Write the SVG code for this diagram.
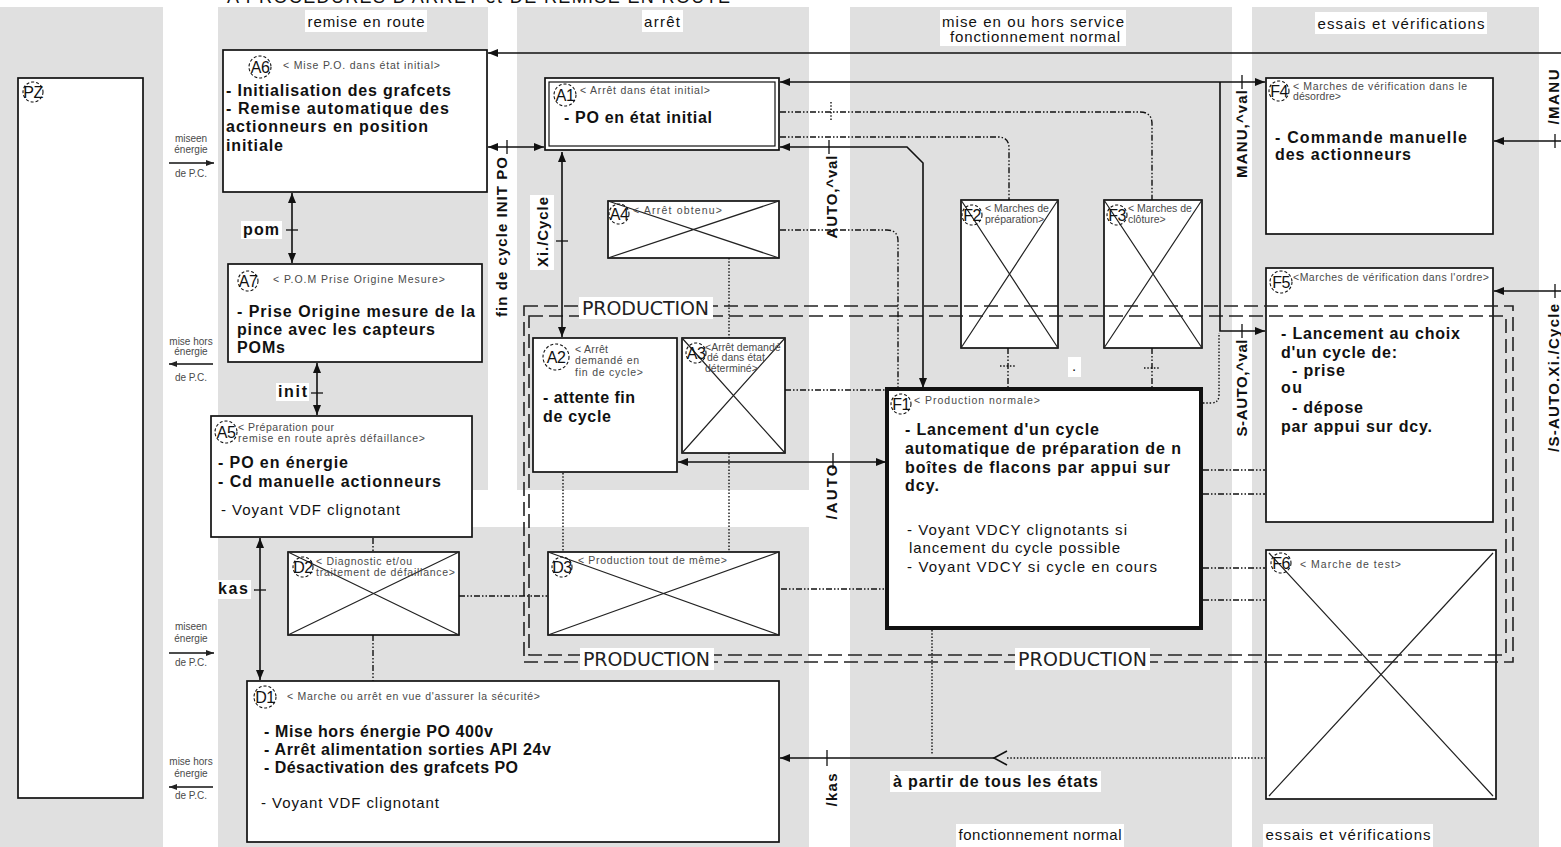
<svg xmlns="http://www.w3.org/2000/svg" width="1561" height="847" viewBox="0 0 1561 847">
<defs>
<style>
.col{fill:#e0e0e0}
.wb{fill:#fff}
.box{fill:#fff;stroke:#111;stroke-width:1.7}
.xx{stroke:#222;stroke-width:1.2;fill:none}
.ln{stroke:#111;stroke-width:1.6;fill:none}
.tk{stroke:#111;stroke-width:1.3}
.dd{stroke:#111;stroke-width:1.4;stroke-dasharray:6 2 1.5 2 1.5 2;fill:none}
.dt{stroke:#111;stroke-width:1.4;stroke-dasharray:1.5 1.8;fill:none}
.pd{stroke:#222;stroke-width:1.6;stroke-dasharray:14 6;fill:none}
.cir{fill:none;stroke:#111;stroke-width:1.1;stroke-dasharray:3 2}
text{font-family:"Liberation Sans",Arial,sans-serif}
.cl{font-size:16px;fill:#111;text-anchor:middle;dominant-baseline:central;letter-spacing:-0.5px}
.tt{font-size:10.5px;fill:#4a4a4a}
.b{font-size:16px;font-weight:bold;fill:#111}
.r{font-size:15px;fill:#111}
.hd{font-size:15px;fill:#111;text-anchor:middle}
.sm{font-size:10px;fill:#4a4a4a;text-anchor:middle}
.pr{font-family:"DejaVu Sans",sans-serif;font-size:19px;fill:#222}
.v{font-size:15px;font-weight:bold;fill:#111;text-anchor:middle;dominant-baseline:central}
</style>
<marker id="ah" viewBox="0 0 10 8" refX="10" refY="4" markerWidth="10" markerHeight="8" markerUnits="userSpaceOnUse" orient="auto-start-reverse"><path d="M0,0 L10,4 L0,8 z" fill="#111"/></marker>
<marker id="sa" viewBox="0 0 8 6" refX="8" refY="3" markerWidth="8" markerHeight="6" markerUnits="userSpaceOnUse" orient="auto"><path d="M0,0 L8,3 L0,6 z" fill="#222"/></marker>
<clipPath id="cA3"><rect x="682" y="338" width="103" height="115"/></clipPath>
<clipPath id="cF2"><rect x="961" y="200" width="97" height="148"/></clipPath>
<clipPath id="cF3"><rect x="1104" y="200" width="98" height="148"/></clipPath>
</defs>
<rect width="1561" height="847" fill="#fff"/>
<g id="zones">
<rect class="col" x="0" y="7" width="163" height="840"/>
<rect class="col" x="218" y="7" width="270" height="483"/>
<rect class="col" x="517" y="7" width="292" height="483"/>
<rect class="col" x="218" y="527" width="591" height="320"/>
<rect class="col" x="850" y="7" width="382" height="840"/>
<rect class="col" x="1252" y="7" width="287" height="840"/>
</g>
<g id="headers">
<text x="227" y="3" font-size="18" fill="#111" textLength="503">A  PROCEDURES D'ARRET et DE REMISE EN ROUTE</text>
<rect class="wb" x="305" y="10" width="122" height="22"/>
<text class="hd" x="366" y="27" textLength="117">remise en route</text>
<rect class="wb" x="642" y="10" width="41" height="22"/>
<text class="hd" x="662" y="27" textLength="36">arrêt</text>
<rect class="wb" x="940" y="10" width="186" height="36"/>
<text class="hd" x="1033" y="27" textLength="182">mise en ou hors service</text>
<text class="hd" x="1035" y="42" textLength="170">fonctionnement normal</text>
<rect class="wb" x="1315" y="12" width="172" height="22"/>
<text class="hd" x="1401" y="29" textLength="167">essais et vérifications</text>
<rect class="wb" x="956" y="824" width="168" height="23"/>
<text class="hd" x="1040" y="840" textLength="163">fonctionnement normal</text>
<rect class="wb" x="1263" y="824" width="170" height="23"/>
<text class="hd" x="1348" y="840" textLength="165">essais et vérifications</text>
</g>
<g id="pc-labels">
<text class="sm" x="191" y="142">miseen</text>
<text class="sm" x="191" y="153">énergie</text>
<line class="tk" x1="169" y1="163" x2="214" y2="163" marker-end="url(#sa)"/>
<text class="sm" x="191" y="177">de P.C.</text>
<text class="sm" x="191" y="345">mise hors</text>
<text class="sm" x="191" y="355">énergie</text>
<line class="tk" x1="213" y1="364" x2="169" y2="364" marker-end="url(#sa)"/>
<text class="sm" x="191" y="381">de P.C.</text>
<text class="sm" x="191" y="630">miseen</text>
<text class="sm" x="191" y="642">énergie</text>
<line class="tk" x1="169" y1="653" x2="214" y2="653" marker-end="url(#sa)"/>
<text class="sm" x="191" y="666">de P.C.</text>
<text class="sm" x="191" y="765">mise hors</text>
<text class="sm" x="191" y="777">énergie</text>
<line class="tk" x1="213" y1="787" x2="169" y2="787" marker-end="url(#sa)"/>
<text class="sm" x="191" y="799">de P.C.</text>
</g>
<g id="PZ">
<rect class="box" x="18" y="78" width="125" height="720"/>
<circle class="cir" cx="33" cy="92" r="10"/><text class="cl" x="33" y="92">PZ</text>
</g>
<g id="A6">
<rect class="box" x="223" y="50" width="264" height="142"/>
<circle class="cir" cx="260" cy="67" r="11"/><text class="cl" x="260" y="67">A6</text>
<text class="tt" x="283" y="69" textLength="157">&lt; Mise P.O. dans état initial&gt;</text>
<text class="b" x="226" y="96" textLength="225">- Initialisation des grafcets</text>
<text class="b" x="226" y="114" textLength="223">- Remise automatique des</text>
<text class="b" x="226" y="132" textLength="202">actionneurs en position</text>
<text class="b" x="226" y="151" textLength="57">initiale</text>
</g>
<g id="A7">
<rect class="box" x="228" y="264" width="254" height="98"/>
<circle class="cir" cx="248" cy="281" r="10"/><text class="cl" x="248" y="281">A7</text>
<text class="tt" x="273" y="283" textLength="172">&lt; P.O.M Prise Origine Mesure&gt;</text>
<text class="b" x="237" y="317" textLength="238">- Prise Origine mesure de la</text>
<text class="b" x="237" y="335" textLength="198">pince avec les capteurs</text>
<text class="b" x="237" y="353" textLength="48">POMs</text>
</g>
<g id="A5">
<rect class="box" x="211" y="416" width="261" height="121"/>
<circle class="cir" cx="226" cy="432" r="11"/><text class="cl" x="226" y="432">A5</text>
<text class="tt" x="238" y="431" textLength="96">&lt; Préparation pour</text>
<text class="tt" x="238" y="442" textLength="187">remise en route après défaillance&gt;</text>
<text class="b" x="218" y="468" textLength="130">- PO en énergie</text>
<text class="b" x="218" y="487" textLength="223">- Cd manuelle actionneurs</text>
<text class="r" x="221" y="515" textLength="179">- Voyant VDF clignotant</text>
</g>
<g id="A1">
<rect class="box" x="545" y="78" width="234" height="72"/>
<rect fill="none" stroke="#111" stroke-width="1.2" x="549" y="82" width="226" height="64"/>
<circle class="cir" cx="565" cy="95" r="11"/><text class="cl" x="565" y="95">A1</text>
<text class="tt" x="580" y="94" textLength="130">&lt; Arrêt dans état initial&gt;</text>
<text class="b" x="564" y="123" textLength="148">- PO en état initial</text>
</g>
<g id="A4">
<rect class="box" x="608" y="201" width="171" height="57"/>
<path class="xx" d="M608,201 L779,258 M779,201 L608,258"/>
<circle class="cir" cx="619" cy="214" r="10"/><text class="cl" x="619" y="214">A4</text>
<text class="tt" x="633" y="214" textLength="89">&lt; Arrêt obtenu&gt;</text>
</g>
<g id="A2">
<rect class="box" x="533" y="338" width="144" height="134"/>
<circle class="cir" cx="556" cy="357" r="13"/><text class="cl" x="556" y="357" font-size="18">A2</text>
<text class="tt" x="575" y="353" textLength="33">&lt; Arrêt</text>
<text class="tt" x="575" y="364" textLength="64">demandé en</text>
<text class="tt" x="575" y="376" textLength="68">fin de cycle&gt;</text>
<text class="b" x="543" y="403" textLength="92">- attente fin</text>
<text class="b" x="543" y="422" textLength="68">de cycle</text>
</g>
<g id="A3">
<rect class="box" x="682" y="338" width="103" height="115"/>
<path class="xx" d="M682,338 L785,453 M785,338 L682,453"/>
<circle class="cir" cx="696" cy="353" r="10"/><text class="cl" x="696" y="353">A3</text>
<g clip-path="url(#cA3)">
<text class="tt" x="705" y="351">&lt;Arrêt demandé</text>
<text class="tt" x="707" y="361">dé dans état</text>
<text class="tt" x="705" y="372">déterminé&gt;</text>
</g>
</g>
<g id="F2">
<rect class="box" x="961" y="200" width="97" height="148"/>
<path class="xx" d="M961,200 L1058,348 M1058,200 L961,348"/>
<circle class="cir" cx="972" cy="215" r="10"/><text class="cl" x="972" y="215">F2</text>
<g clip-path="url(#cF2)">
<text class="tt" x="985" y="212">&lt; Marches de</text>
<text class="tt" x="985" y="223">préparation&gt;</text>
</g>
</g>
<g id="F3">
<rect class="box" x="1104" y="200" width="98" height="148"/>
<path class="xx" d="M1104,200 L1202,348 M1202,200 L1104,348"/>
<circle class="cir" cx="1117" cy="215" r="10"/><text class="cl" x="1117" y="215">F3</text>
<g clip-path="url(#cF3)">
<text class="tt" x="1128" y="212">&lt; Marches de</text>
<text class="tt" x="1128" y="223">clôture&gt;</text>
</g>
</g>
<g id="F1">
<rect fill="#fff" stroke="#111" stroke-width="4" x="887" y="389" width="314" height="239"/>
<circle class="cir" cx="901" cy="404" r="10"/><text class="cl" x="901" y="404">F1</text>
<text class="tt" x="914" y="404" textLength="126">&lt; Production normale&gt;</text>
<text class="b" x="905" y="435" textLength="194">- Lancement d'un cycle</text>
<text class="b" x="905" y="454" textLength="276">automatique de préparation de n</text>
<text class="b" x="905" y="473" textLength="265">boîtes de flacons par appui sur</text>
<text class="b" x="905" y="491" textLength="34">dcy.</text>
<text class="r" x="907" y="535" textLength="220">- Voyant VDCY clignotants si</text>
<text class="r" x="909" y="553" textLength="211">lancement du cycle possible</text>
<text class="r" x="907" y="572" textLength="250">- Voyant VDCY si cycle en cours</text>
</g>
<g id="F4">
<rect class="box" x="1266" y="78" width="227" height="156"/>
<circle class="cir" cx="1279" cy="91" r="10"/><text class="cl" x="1279" y="91">F4</text>
<text class="tt" x="1293" y="90" textLength="174">&lt; Marches de vérification dans le</text>
<text class="tt" x="1293" y="100" textLength="48">désordre&gt;</text>
<text class="b" x="1275" y="143" textLength="192">- Commande manuelle</text>
<text class="b" x="1275" y="160" textLength="136">des actionneurs</text>
</g>
<g id="F5">
<rect class="box" x="1266" y="268" width="227" height="254"/>
<circle class="cir" cx="1281" cy="282" r="11"/><text class="cl" x="1281" y="282">F5</text>
<text class="tt" x="1293" y="281" textLength="196">&lt;Marches de vérification dans l'ordre&gt;</text>
<text class="b" x="1281" y="339" textLength="179">- Lancement au choix</text>
<text class="b" x="1281" y="358" textLength="116">d'un cycle de:</text>
<text class="b" x="1292" y="376" textLength="53">- prise</text>
<text class="b" x="1281" y="393" textLength="21">ou</text>
<text class="b" x="1292" y="413" textLength="71">- dépose</text>
<text class="b" x="1281" y="432" textLength="151">par appui sur dcy.</text>
</g>
<g id="F6">
<rect class="box" x="1266" y="550" width="230" height="249"/>
<path class="xx" d="M1269,553 L1493,796 M1493,553 L1269,796"/>
<circle class="cir" cx="1281" cy="563" r="10"/><text class="cl" x="1281" y="563">F6</text>
<text class="tt" x="1300" y="568" textLength="101">&lt; Marche de test&gt;</text>
</g>
<g id="D2">
<rect class="box" x="288" y="552" width="171" height="83"/>
<path class="xx" d="M288,552 L459,635 M459,552 L288,635"/>
<circle class="cir" cx="303" cy="567" r="10"/><text class="cl" x="303" y="567">D2</text>
<text class="tt" x="316" y="565" textLength="96">&lt; Diagnostic et/ou</text>
<text class="tt" x="316" y="576" textLength="139">traitement de défaillance&gt;</text>
</g>
<g id="D3">
<rect class="box" x="548" y="552" width="231" height="83"/>
<path class="xx" d="M548,552 L779,635 M779,552 L548,635"/>
<circle class="cir" cx="562" cy="567" r="10"/><text class="cl" x="562" y="567">D3</text>
<text class="tt" x="578" y="564" textLength="149">&lt; Production tout de même&gt;</text>
</g>
<g id="D1">
<rect class="box" x="247" y="681" width="532" height="161"/>
<circle class="cir" cx="265" cy="697" r="11"/><text class="cl" x="265" y="697">D1</text>
<text class="tt" x="287" y="700" textLength="253">&lt; Marche ou arrêt en vue d'assurer la sécurité&gt;</text>
<text class="b" x="264" y="737" textLength="229">- Mise hors énergie PO 400v</text>
<text class="b" x="264" y="755" textLength="287">- Arrêt alimentation sorties API  24v</text>
<text class="b" x="264" y="773" textLength="254">- Désactivation des grafcets PO</text>
<text class="r" x="261" y="808" textLength="178">- Voyant VDF clignotant</text>
</g>
<g id="production">
<path class="pd" d="M524,306 H1513 V662 H524 Z"/>
<path class="pd" d="M529,316 H1506 V655 H529 Z"/>
</g>
<g id="connectors">
<path class="ln" d="M1561,53 H488" marker-end="url(#ah)"/>
<path class="ln" d="M488,147 H544" marker-start="url(#ah)" marker-end="url(#ah)"/>
<line class="tk" x1="507" y1="140" x2="507" y2="154"/>
<path class="ln" d="M292,193 V263" marker-start="url(#ah)" marker-end="url(#ah)"/>
<line class="tk" x1="286" y1="230" x2="298" y2="230"/>
<path class="ln" d="M317,363 V415" marker-start="url(#ah)" marker-end="url(#ah)"/>
<line class="tk" x1="311" y1="393" x2="323" y2="393"/>
<path class="ln" d="M260,538 V680" marker-start="url(#ah)" marker-end="url(#ah)"/>
<line class="tk" x1="254" y1="590" x2="266" y2="590"/>
<path class="ln" d="M562,337 V152" marker-start="url(#ah)" marker-end="url(#ah)"/>
<line class="tk" x1="556" y1="241" x2="568" y2="241"/>
<path class="ln" d="M780,147 H907 L923,163 V388" marker-start="url(#ah)" marker-end="url(#ah)"/>
<line class="tk" x1="829" y1="140" x2="829" y2="154"/>
<path class="ln" d="M780,82 H1265" marker-start="url(#ah)" marker-end="url(#ah)"/>
<line class="tk" x1="1242" y1="75" x2="1242" y2="89"/>
<path class="ln" d="M1220,82 V331 H1265" marker-end="url(#ah)"/>
<line class="tk" x1="1242" y1="324" x2="1242" y2="338"/>
<path class="ln" d="M886,462 H678" marker-start="url(#ah)" marker-end="url(#ah)"/>
<line class="tk" x1="833" y1="453" x2="833" y2="469"/>
<path class="ln" d="M1494,141 H1561" marker-start="url(#ah)"/>
<line class="tk" x1="1555" y1="134" x2="1555" y2="148"/>
<path class="ln" d="M1494,291 H1561" marker-start="url(#ah)"/>
<line class="tk" x1="1555" y1="284" x2="1555" y2="298"/>
<path class="ln" d="M994,758 H780" marker-end="url(#ah)"/>
<line class="tk" x1="827" y1="750" x2="827" y2="766"/>
<path class="ln" d="M1007,751 L994,758 L1007,765"/>
<path class="dt" d="M1007,758 H1265"/>
<path class="dt" d="M932,630 V754"/>
<path class="dd" d="M373,538 V552"/>
<path class="dd" d="M373,635 V681"/>
<path class="dd" d="M459,596 H548"/>
<path class="dd" d="M781,589 H886"/>
<path class="dd" d="M785,390 H886"/>
<path class="dt" d="M563,473 V552"/>
<path class="dt" d="M729,258 V338"/>
<path class="dt" d="M729,453 V552"/>
<path class="dd" d="M780,230 H887 Q898,230 898,241 V388"/>
<path class="dd" d="M780,112 H1140 Q1152,112 1152,124 V200"/>
<path class="dt" d="M831,102 V121"/>
<path class="dd" d="M780,137 H998 Q1009,137 1009,148 V200"/>
<path class="dd" d="M1008,348 V388"/>
<path class="dt" d="M1000,366 H1016"/>
<path class="dd" d="M1152,348 V388"/>
<path class="dt" d="M1144,368 H1160"/>
<path class="dt" d="M1203,403 H1211 Q1219,403 1219,395 V333"/>
<path class="dd" d="M1203,470 H1265"/>
<path class="dd" d="M1203,494 H1265"/>
<path class="dd" d="M1203,568 H1265"/>
<path class="dd" d="M1203,600 H1265"/>
</g>
<g id="labels">
<rect class="wb" x="241" y="221" width="41" height="18"/>
<text class="b" x="243" y="235" textLength="36">pom</text>
<rect class="wb" x="276" y="383" width="33" height="18"/>
<text class="b" x="278" y="397" textLength="29">init</text>
<rect class="wb" x="216" y="580" width="35" height="19"/>
<text class="b" x="218" y="594" textLength="30">kas</text>
<text class="v" transform="translate(501,237) rotate(-90)" textLength="160">fin de cycle INIT PO</text>
<rect class="wb" x="530" y="195" width="24" height="75"/>
<text class="v" transform="translate(542,232) rotate(-90)" textLength="70">Xi./Cycle</text>
<text class="v" transform="translate(831,197) rotate(-90)" textLength="83">AUTO,^val</text>
<text class="v" transform="translate(831,492) rotate(-90)" textLength="55">/AUTO</text>
<text class="v" transform="translate(831,790) rotate(-90)" textLength="33">/kas</text>
<text class="v" transform="translate(1241,134) rotate(-90)" textLength="88">MANU,^val</text>
<text class="v" transform="translate(1241,388) rotate(-90)" textLength="97">S-AUTO,^val</text>
<text class="v" transform="translate(1553,97) rotate(-90)" textLength="55">/MANU</text>
<text class="v" transform="translate(1553,378) rotate(-90)" textLength="148">/S-AUTO.Xi./Cycle</text>
<rect class="wb" x="890" y="771" width="211" height="21"/>
<text class="b" x="893" y="787" textLength="205">à partir de tous les états</text>
<rect class="wb" x="1068" y="357" width="13" height="20"/>
<text class="r" x="1072" y="371">.</text>
<rect class="wb" x="579" y="297" width="134" height="22"/>
<text class="pr" x="582" y="315" textLength="127">PRODUCTION</text>
<rect class="wb" x="580" y="648" width="134" height="22"/>
<text class="pr" x="583" y="666" textLength="127">PRODUCTION</text>
<rect class="wb" x="1015" y="648" width="135" height="22"/>
<text class="pr" x="1018" y="666" textLength="129">PRODUCTION</text>
</g>
</svg>
